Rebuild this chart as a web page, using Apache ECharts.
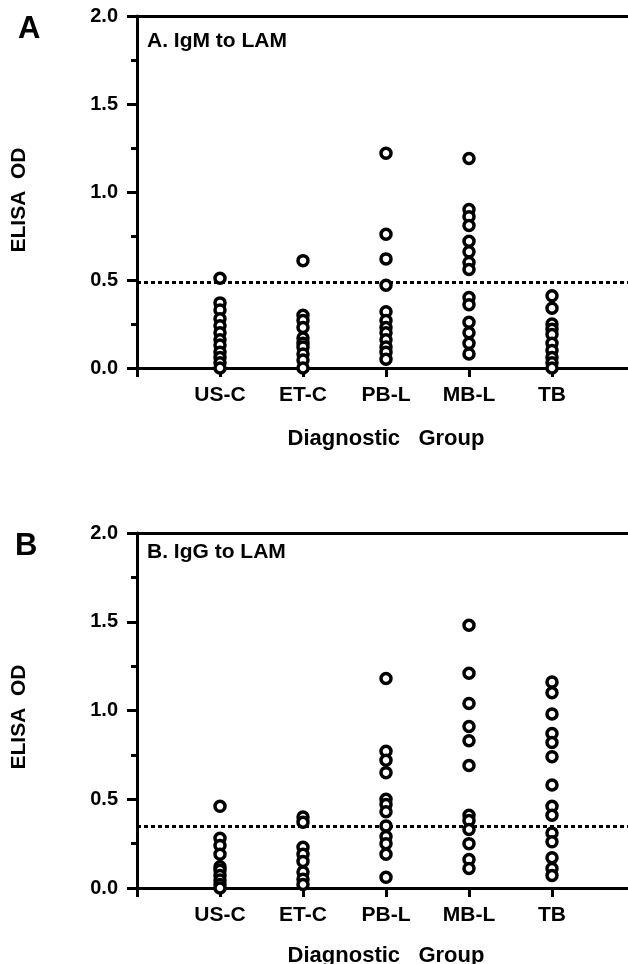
<!DOCTYPE html>
<html>
<head>
<meta charset="utf-8">
<script src="https://cdn.jsdelivr.net/npm/echarts@6/dist/echarts.min.js"></script>
<style>
  html, body { margin: 0; padding: 0; background: #fff; }
  #chart { width: 628px; height: 964px; }
</style>
</head>
<body>
<div id="chart"></div>
<script>
// diagnostic groups along the x axis
const groups = ["US-C", "ET-C", "PB-L", "MB-L", "TB"];
const yTicks = [0, 0.5, 1.0, 1.5, 2.0];

// panel A: IgM to LAM (ELISA OD per subject)
const igmUSC = [0.51, 0.37, 0.33, 0.28, 0.24, 0.20, 0.16, 0.13, 0.09, 0.06, 0.03, 0.0];
const igmETC = [0.61, 0.30, 0.27, 0.23, 0.17, 0.14, 0.12, 0.08, 0.045, 0.0];
const igmPBL = [1.22, 0.76, 0.62, 0.47, 0.32, 0.27, 0.23, 0.20, 0.16, 0.12, 0.09, 0.05];
const igmMBL = [1.19, 0.90, 0.86, 0.81, 0.72, 0.66, 0.60, 0.56, 0.40, 0.36, 0.26, 0.20, 0.14, 0.08];
const igmTB = [0.41, 0.34, 0.25, 0.22, 0.19, 0.14, 0.10, 0.06, 0.03, 0.0];
const igmCutoff = 0.49;

// panel B: IgG to LAM
const iggUSC = [0.46, 0.28, 0.24, 0.19, 0.12, 0.10, 0.07, 0.045, 0.02, 0.0];
const iggETC = [0.40, 0.37, 0.23, 0.19, 0.15, 0.09, 0.05, 0.02];
const iggPBL = [1.18, 0.77, 0.72, 0.65, 0.50, 0.47, 0.43, 0.35, 0.29, 0.25, 0.19, 0.06];
const iggMBL = [1.48, 1.21, 1.04, 0.91, 0.83, 0.69, 0.41, 0.38, 0.33, 0.25, 0.16, 0.11];
const iggTB = [1.16, 1.10, 0.98, 0.87, 0.82, 0.74, 0.58, 0.46, 0.41, 0.31, 0.26, 0.17, 0.11, 0.07];
const iggCutoff = 0.35;

const panels = [
    { letter: "A", title: "A. IgM to LAM", cols: [igmUSC, igmETC, igmPBL, igmMBL, igmTB], cutoff: igmCutoff },
    { letter: "B", title: "B. IgG to LAM", cols: [iggUSC, iggETC, iggPBL, iggMBL, iggTB], cutoff: iggCutoff }
];

const FONT = "'Liberation Sans', Arial, sans-serif";
const grids = [
    { left: 137, top: 16, width: 498, height: 352, containLabel: false, outerBoundsMode: "none" },
    { left: 137, top: 533, width: 498, height: 355, containLabel: false, outerBoundsMode: "none" }
];
const nameGaps = [60, 57];
const yNameCenter = [200, 717];

const chart = echarts.init(document.getElementById("chart"));

const xAxis = [];
const yAxis = [];
const series = [];
const graphic = [];

panels.forEach((p, k) => {
    xAxis.push({
        gridIndex: k,
        type: "value",
        min: 0,
        max: 6,
        interval: 1,
        name: "Diagnostic   Group",
        nameLocation: "middle",
        nameGap: nameGaps[k],
        nameTextStyle: { fontFamily: FONT, fontWeight: "bold", fontSize: 22, color: "#000" },
        axisLine: { show: true, lineStyle: { color: "#000", width: 3 } },
        axisTick: { show: true, length: 9, lineStyle: { color: "#000", width: 3 } },
        axisLabel: {
            margin: 17,
            fontFamily: FONT,
            fontWeight: "bold",
            fontSize: 21,
            color: "#000",
            formatter: (v) => groups[v - 1] || ""
        },
        splitLine: { show: false }
    });
    // top frame line
    xAxis.push({
        gridIndex: k,
        type: "value",
        position: "top",
        min: 0,
        max: 6,
        axisLine: { show: true, lineStyle: { color: "#000", width: 3 } },
        axisTick: { show: false },
        axisLabel: { show: false },
        splitLine: { show: false }
    });
    yAxis.push({
        gridIndex: k,
        type: "value",
        min: yTicks[0],
        max: yTicks[yTicks.length - 1],
        interval: 0.5,
        axisLine: { show: true, lineStyle: { color: "#000", width: 3 } },
        axisTick: { show: true, length: 10, lineStyle: { color: "#000", width: 3 } },
        minorTick: { show: true, splitNumber: 2, length: 6, lineStyle: { color: "#000", width: 3 } },
        axisLabel: {
            margin: 19,
            fontFamily: FONT,
            fontWeight: "bold",
            fontSize: 20,
            color: "#000",
            formatter: (v) => v.toFixed(1)
        },
        splitLine: { show: false },
        minorSplitLine: { show: false }
    });

    // cutoff line
    series.push({
        type: "scatter",
        xAxisIndex: 2 * k,
        yAxisIndex: k,
        data: [],
        z: 1,
        markLine: {
            silent: true,
            symbol: "none",
            label: { show: false },
            lineStyle: { color: "#000", width: 3, type: [4, 3] },
            data: [{ yAxis: p.cutoff }]
        }
    });

    const pts = [];
    p.cols.forEach((vals, i) => {
        vals.forEach((v) => pts.push([i + 1, v]));
    });
    series.push({
        type: "scatter",
        xAxisIndex: 2 * k,
        yAxisIndex: k,
        data: pts,
        z: 5,
        symbol: "circle",
        symbolSize: 10,
        clip: false,
        itemStyle: { color: "#fff", borderColor: "#000", borderWidth: 3.5, opacity: 1 }
    });

    graphic.push({
        type: "text",
        left: k === 0 ? 18 : 15,
        top: k === 0 ? 14 : 531,
        style: { text: p.letter, font: "bold 31px " + FONT, fill: "#000" }
    });
    graphic.push({
        type: "text",
        left: 147,
        top: k === 0 ? 31 : 542,
        style: { text: p.title, font: "bold 21px " + FONT, fill: "#000" }
    });
    // y axis title
    graphic.push({
        type: "text",
        x: 19,
        y: yNameCenter[k],
        rotation: Math.PI / 2,
        style: {
            text: "ELISA  OD",
            font: "bold 21px " + FONT,
            fill: "#000",
            align: "center",
            verticalAlign: "middle"
        }
    });
});

chart.setOption({
    animation: false,
    backgroundColor: "#fff",
    grid: grids,
    xAxis: xAxis,
    yAxis: yAxis,
    series: series,
    graphic: graphic
});
</script>
</body>
</html>
